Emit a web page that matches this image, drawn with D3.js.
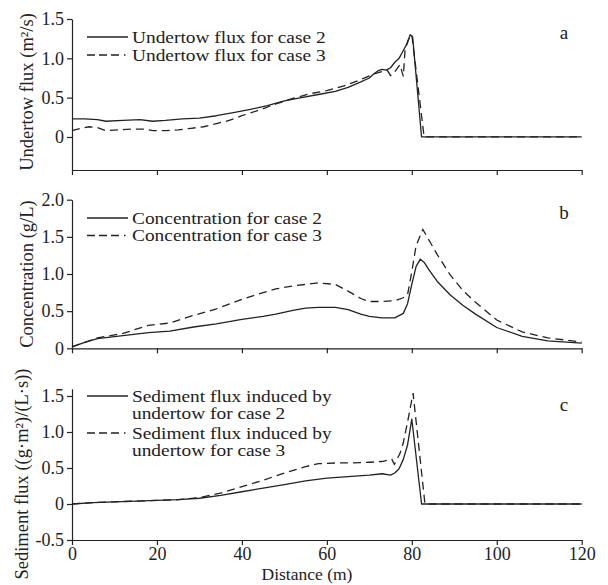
<!DOCTYPE html>
<html>
<head>
<meta charset="utf-8">
<script src="https://cdn.jsdelivr.net/npm/d3@7"></script>
<style>
html,body{margin:0;padding:0;background:#fff;}
svg text{font-family:"Liberation Serif","Times New Roman",serif;fill:#222;}
</style>
</head>
<body>
<svg id="chart" width="608" height="585"></svg>
<script>
// ---------------- DATA ----------------
const xTicks = [0, 20, 40, 60, 80, 100, 120];

// Panel a: undertow flux (m²/s)
const aX2 = [0, 3, 6, 8, 12, 16, 19, 22, 26, 30, 34, 38, 42, 46, 50, 54, 58, 62, 65, 68, 70, 71, 72, 73, 74, 75, 76, 77, 78, 79, 79.6, 80.2, 82.3, 84, 120];
const aY2 = [0.23, 0.23, 0.22, 0.20, 0.21, 0.22, 0.20, 0.21, 0.23, 0.24, 0.27, 0.31, 0.35, 0.40, 0.46, 0.50, 0.54, 0.58, 0.63, 0.70, 0.75, 0.80, 0.84, 0.86, 0.85, 0.88, 0.95, 1.00, 1.10, 1.20, 1.30, 1.27, 0, 0, 0];
const aX3 = [0, 2, 4, 6, 8, 11, 14, 17, 19, 22, 25, 28, 31, 34, 37, 40, 44, 48, 52, 56, 60, 64, 68, 71, 73, 74.2, 75, 76, 77.2, 78, 78.4, 79.1, 80, 82.9, 84, 120];
const aY3 = [0.08, 0.11, 0.13, 0.12, 0.08, 0.09, 0.10, 0.10, 0.08, 0.08, 0.09, 0.11, 0.13, 0.17, 0.21, 0.27, 0.34, 0.42, 0.49, 0.55, 0.59, 0.65, 0.73, 0.80, 0.83, 0.85, 0.78, 0.83, 0.92, 0.77, 1.10, 1.23, 1.30, 0, 0, 0];
const aTicks = [0, 0.5, 1.0, 1.5];
const aTickLabels = ["0", "0.5", "1.0", "1.5"];

// Panel b: concentration (g/L)
const bX2 = [0, 3, 6, 12, 18, 23, 29, 34, 40, 45, 48, 52, 55, 58, 62, 65, 68, 70, 73, 76, 78, 79, 80, 81, 82, 83, 84, 86, 89, 92, 95, 100, 106, 112, 120];
const bY2 = [0.02, 0.08, 0.13, 0.17, 0.21, 0.23, 0.29, 0.33, 0.39, 0.43, 0.46, 0.51, 0.54, 0.55, 0.55, 0.52, 0.46, 0.43, 0.41, 0.41, 0.47, 0.60, 0.86, 1.10, 1.20, 1.15, 1.06, 0.90, 0.72, 0.58, 0.46, 0.28, 0.16, 0.10, 0.07];
const bX3 = [0, 3, 6, 12, 18, 23, 29, 34, 40, 45, 48, 52, 55, 58, 62, 65, 68, 70, 73, 76, 78, 79, 80, 81, 82.6, 84.3, 86, 89, 92, 95, 100, 106, 112, 120];
const bY3 = [0.02, 0.08, 0.14, 0.20, 0.31, 0.34, 0.45, 0.53, 0.66, 0.75, 0.80, 0.84, 0.86, 0.88, 0.86, 0.77, 0.67, 0.63, 0.63, 0.64, 0.68, 0.72, 1.03, 1.38, 1.60, 1.43, 1.26, 0.99, 0.78, 0.62, 0.38, 0.22, 0.14, 0.085];
const bTicks = [0, 0.5, 1.0, 1.5, 2.0];
const bTickLabels = ["0", "0.5", "1.0", "1.5", "2.0"];

// Panel c: sediment flux ((g·m²)/(L·s))
const cX2 = [0, 5, 10, 15, 20, 25, 30, 35, 40, 45, 50, 55, 60, 65, 70, 73, 75, 76, 77, 78, 79, 80, 82.3, 84, 120];
const cY2 = [0, 0.02, 0.03, 0.04, 0.05, 0.06, 0.08, 0.12, 0.17, 0.22, 0.27, 0.32, 0.36, 0.38, 0.40, 0.42, 0.40, 0.43, 0.49, 0.62, 0.82, 1.18, 0, 0, 0];
const cX3 = [0, 5, 10, 15, 20, 25, 30, 35, 40, 45, 50, 55, 58, 62, 66, 70, 73, 75.3, 75.9, 77.2, 78, 79.1, 80.3, 83.1, 84, 120];
const cY3 = [0, 0.02, 0.03, 0.04, 0.05, 0.06, 0.09, 0.15, 0.24, 0.33, 0.43, 0.52, 0.56, 0.57, 0.57, 0.58, 0.59, 0.62, 0.55, 0.70, 0.85, 1.17, 1.54, 0, 0, 0];
const cTicks = [-0.5, 0, 0.5, 1.0, 1.5];
const cTickLabels = ["-0.5", "0", "0.5", "1.0", "1.5"];

const yTitles = ["Undertow flux (m\u00B2/s)", "Concentration (g/L)", "Sediment flux ((g\u00B7m\u00B2)/(L\u00B7s))"];
const panelLetters = ["a", "b", "c"];
const legendA = ["Undertow flux for case 2", "Undertow flux for case 3"];
const legendB = ["Concentration for case 2", "Concentration for case 3"];
const legendC = [["Sediment flux induced by", "undertow for case 2"], ["Sediment flux induced by", "undertow for case 3"]];
const xTitle = "Distance (m)";

// ---------------- DRAW ----------------
const svg = d3.select("#chart");
const ink = "#222";
const serif = '"Liberation Serif","Times New Roman",serif';
const x = d3.scaleLinear().domain([0, 120]).range([72, 581.7]);

const panels = [
  {yd: [-0.42, 1.5], yr: [170, 19], ticks: aTicks, labels: aTickLabels,
   s2: [aX2, aY2], s3: [aX3, aY3], legend: legendA.map(t => [t]), legY: [37, 55],
   title: yTitles[0], titleX: 33, titleY: 92, letterY: 39, showX: false},
  {yd: [0, 2.0], yr: [348.3, 199.7], ticks: bTicks, labels: bTickLabels,
   s2: [bX2, bY2], s3: [bX3, bY3], legend: legendB.map(t => [t]), legY: [218, 235.5],
   title: yTitles[1], titleX: 33, titleY: 274, letterY: 219, showX: false},
  {yd: [-0.5, 1.6], yr: [540, 388.8], ticks: cTicks, labels: cTickLabels,
   s2: [cX2, cY2], s3: [cX3, cY3], legend: legendC, legY: [396, 433],
   title: yTitles[2], titleX: 28, titleY: 474, letterY: 411, showX: true}
];

panels.forEach((p, i) => {
  const y = d3.scaleLinear().domain(p.yd).range(p.yr);
  const g = svg.append("g");

  // y axis
  const ya = g.append("g").attr("transform", `translate(${x(0)},0)`)
    .call(d3.axisLeft(y).tickValues(p.ticks).tickFormat((d, k) => p.labels[k]).tickSize(5).tickPadding(3).tickSizeOuter(0));
  ya.select(".domain").attr("stroke", ink).attr("stroke-width", 1.2);
  ya.selectAll(".tick line").attr("stroke", ink).attr("stroke-width", 1.2);
  ya.selectAll(".tick text").attr("font-size", "18px").attr("fill", ink).style("font-family", serif);

  // x axis
  const xa = g.append("g").attr("transform", `translate(0,${p.yr[0]})`)
    .call(d3.axisBottom(x).tickValues(xTicks).tickSize(5).tickPadding(2).tickSizeOuter(0)
      .tickFormat(p.showX ? d3.format("d") : () => ""));
  xa.select(".domain").attr("stroke", ink).attr("stroke-width", 1.2);
  xa.selectAll(".tick line").attr("stroke", ink).attr("stroke-width", 1.2);
  xa.selectAll(".tick text").attr("font-size", "18px").attr("fill", ink).style("font-family", serif);

  // lines
  const mk = (xs, ys) => xs.map((v, k) => [v, ys[k]]);
  const line = d3.line().x(d => x(d[0])).y(d => y(d[1]));
  g.append("path").datum(mk(p.s2[0], p.s2[1])).attr("d", line)
    .attr("fill", "none").attr("stroke", ink).attr("stroke-width", 1.3).attr("stroke-linejoin", "round");
  g.append("path").datum(mk(p.s3[0], p.s3[1])).attr("d", line)
    .attr("fill", "none").attr("stroke", ink).attr("stroke-width", 1.3).attr("stroke-dasharray", "8,5");

  // legend
  p.legend.forEach((lines, k) => {
    const ly = p.legY[k];
    g.append("line").attr("x1", 87).attr("x2", 128).attr("y1", ly).attr("y2", ly)
      .attr("stroke", ink).attr("stroke-width", 1.3)
      .attr("stroke-dasharray", k === 0 ? null : "8,4,8,4,8,5,1.5,10");
    lines.forEach((t, j) => {
      g.append("text")
        .attr("transform", `translate(132,${ly + j * 17.5}) scale(1.14,1)`)
        .attr("dy", "0.35em").attr("font-size", "17px").text(t);
    });
  });

  // y title
  g.append("text").attr("transform", `translate(${p.titleX},${p.titleY}) rotate(-90)`)
    .attr("text-anchor", "middle").attr("font-size", "18.5px").text(p.title);

  // panel letter
  g.append("text").attr("x", 564).attr("y", p.letterY).attr("text-anchor", "middle")
    .attr("font-size", "19px").text(panelLetters[i]);
});

svg.append("text").attr("x", 307).attr("y", 580).attr("text-anchor", "middle")
  .attr("font-size", "17.5px").text(xTitle);
</script>
</body>
</html>
